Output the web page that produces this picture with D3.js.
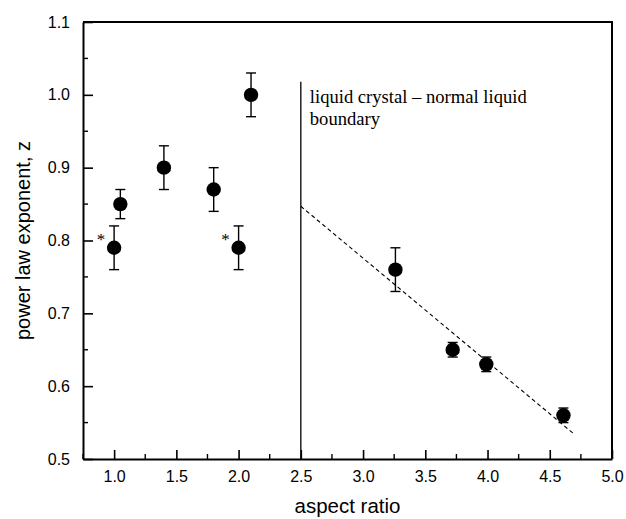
<!DOCTYPE html>
<html>
<head>
<meta charset="utf-8">
<script src="https://cdn.jsdelivr.net/npm/d3@7"></script>
<style>
  html, body { margin: 0; padding: 0; background: #fff; }
  svg { display: block; }
  .tick text { font-family: "Liberation Sans", Arial, sans-serif; }
</style>
</head>
<body>
<script>
// Measured power-law exponents against particle aspect ratio
const aspectRatio = [1.0, 1.05, 1.4, 1.8, 2.0, 2.1, 3.26, 3.72, 3.99, 4.61];
const exponent    = [0.79, 0.85, 0.90, 0.87, 0.79, 1.00, 0.76, 0.65, 0.63, 0.56];
const errorBar    = [0.03, 0.02, 0.03, 0.03, 0.03, 0.03, 0.03, 0.01, 0.01, 0.01];
const starred     = [true, false, false, false, true, false, false, false, false, false];

// Phase boundary and linear fit on the normal-liquid side
const boundaryX = 2.5;
const boundaryTop = 1.018;
const fitX = [2.5, 4.69];
const fitZ = [0.847, 0.535];

const xTicks = [1.0, 1.5, 2.0, 2.5, 3.0, 3.5, 4.0, 4.5, 5.0];
const yTicks = [0.5, 0.6, 0.7, 0.8, 0.9, 1.0, 1.1];
const boundaryLabel = ["liquid crystal \u2013 normal liquid", "boundary"];

const W = 626, H = 519;
const plotL = 83, plotR = 612, plotT = 22, plotB = 459;

const svg = d3.select("body").append("svg").attr("width", W).attr("height", H);

const x = d3.scaleLinear().domain([0.75, 5.0]).range([plotL, plotR]);
const y = d3.scaleLinear().domain([0.5, 1.1]).range([plotB, plotT]);

// Frame: top and right edges without ticks
svg.append("path")
  .attr("d", `M${plotL},${plotT}H${plotR}V${plotB}`)
  .attr("fill", "none").attr("stroke", "#000").attr("stroke-width", 2);

// Bottom axis with inward ticks and minor ticks
const xAxis = d3.axisBottom(x).tickValues(xTicks).tickFormat(d3.format(".1f"))
  .tickSizeInner(-9).tickSizeOuter(0).tickPadding(12);
const gx = svg.append("g").attr("transform", `translate(0,${plotB})`).call(xAxis);
gx.select(".domain").attr("stroke-width", 2);
gx.selectAll(".tick line").attr("stroke-width", 1.6);
gx.selectAll(".tick text").attr("font-size", 16).attr("fill", "#000");
svg.append("g").selectAll("line").data(d3.range(0.75, 5.0, 0.5)).join("line")
  .attr("x1", d => x(d)).attr("x2", d => x(d))
  .attr("y1", plotB).attr("y2", plotB - 5)
  .attr("stroke", "#000").attr("stroke-width", 1.4);

// Left axis with inward ticks and minor ticks
const yAxis = d3.axisLeft(y).tickValues(yTicks).tickFormat(d3.format(".1f"))
  .tickSizeInner(-10).tickSizeOuter(0).tickPadding(13);
const gy = svg.append("g").attr("transform", `translate(${plotL},0)`).call(yAxis);
gy.select(".domain").attr("stroke-width", 2);
gy.selectAll(".tick line").attr("stroke-width", 1.6);
gy.selectAll(".tick text").attr("font-size", 16).attr("fill", "#000");
svg.append("g").selectAll("line").data(d3.range(0.55, 1.1, 0.1)).join("line")
  .attr("x1", plotL).attr("x2", plotL + 5)
  .attr("y1", d => y(d)).attr("y2", d => y(d))
  .attr("stroke", "#000").attr("stroke-width", 1.4);

// Axis titles
svg.append("text")
  .attr("x", (plotL + plotR) / 2).attr("y", 513)
  .attr("text-anchor", "middle")
  .attr("font-family", "'Liberation Sans', Arial, sans-serif")
  .attr("font-size", 20.5).text("aspect ratio");
svg.append("text")
  .attr("transform", `translate(30,${(plotT + plotB) / 2}) rotate(-90)`)
  .attr("text-anchor", "middle")
  .attr("font-family", "'Liberation Sans', Arial, sans-serif")
  .attr("font-size", 20).text("power law exponent, z");

// Boundary line
svg.append("line")
  .attr("x1", x(boundaryX)).attr("x2", x(boundaryX))
  .attr("y1", y(0.5)).attr("y2", y(boundaryTop))
  .attr("stroke", "#000").attr("stroke-width", 1.3);

svg.append("text")
  .attr("font-family", "'Liberation Serif', 'Times New Roman', serif")
  .attr("font-size", 18.6)
  .selectAll("tspan").data(boundaryLabel).join("tspan")
  .attr("x", x(boundaryX) + 9)
  .attr("y", (d, i) => 103 + i * 22)
  .text(d => d);

// Linear fit
svg.append("line")
  .attr("x1", x(fitX[0])).attr("y1", y(fitZ[0]))
  .attr("x2", x(fitX[1])).attr("y2", y(fitZ[1]))
  .attr("stroke", "#000").attr("stroke-width", 1.1)
  .attr("stroke-dasharray", "4,3");

// Error bars
const pts = aspectRatio.map((a, i) => ({ a, z: exponent[i], e: errorBar[i], s: starred[i] }));
const eb = svg.append("g").attr("stroke", "#000").attr("stroke-width", 1.4);
pts.forEach(p => {
  const cx = x(p.a), y1 = y(p.z + p.e), y2 = y(p.z - p.e);
  eb.append("line").attr("x1", cx).attr("x2", cx).attr("y1", y1).attr("y2", y2);
  eb.append("line").attr("x1", cx - 5).attr("x2", cx + 5).attr("y1", y1).attr("y2", y1);
  eb.append("line").attr("x1", cx - 5).attr("x2", cx + 5).attr("y1", y2).attr("y2", y2);
});

// Markers
svg.append("g").selectAll("circle").data(pts).join("circle")
  .attr("cx", d => x(d.a)).attr("cy", d => y(d.z)).attr("r", 7.2)
  .attr("fill", "#000");

// Asterisks beside flagged points
svg.append("g").selectAll("text").data(pts.filter(d => d.s)).join("text")
  .attr("x", d => x(d.a) - 13).attr("y", d => y(d.z) - 3)
  .attr("text-anchor", "middle")
  .attr("font-family", "'Liberation Serif', 'Times New Roman', serif")
  .attr("font-size", 17).text("*");
</script>
</body>
</html>
